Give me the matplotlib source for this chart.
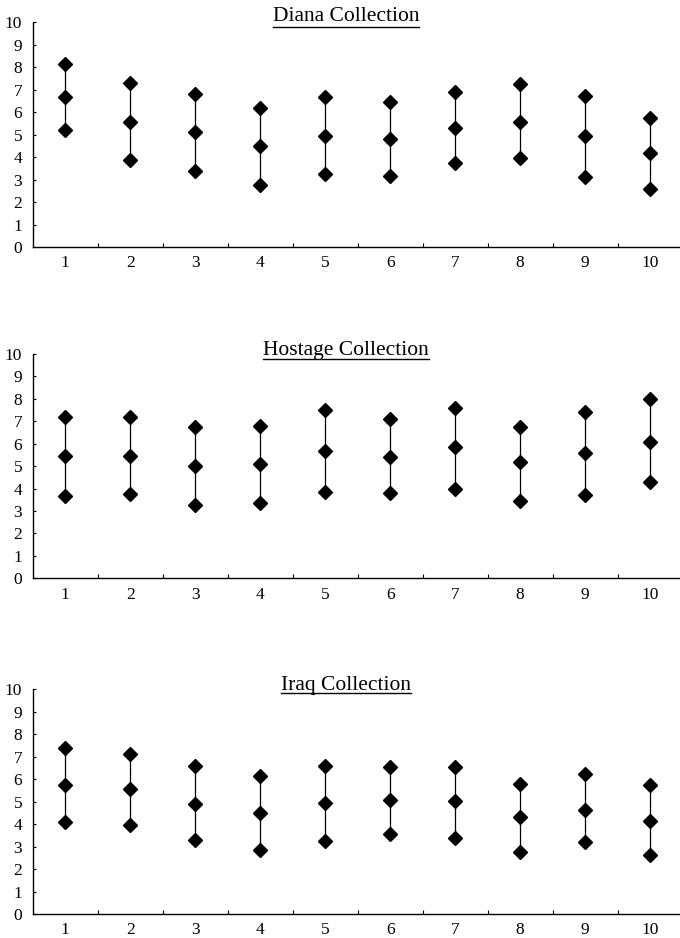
import matplotlib
matplotlib.use("Agg")
import matplotlib.pyplot as plt
from matplotlib.lines import Line2D
import numpy as np

categories = [1, 2, 3, 4, 5, 6, 7, 8, 9, 10]
titles = ["Diana Collection", "Hostage Collection", "Iraq Collection"]

diana_high = [8.15, 7.28, 6.80, 6.20, 6.68, 6.47, 6.90, 7.24, 6.72, 5.74]
diana_mid = [6.66, 5.55, 5.12, 4.48, 4.93, 4.82, 5.31, 5.56, 4.93, 4.18]
diana_low = [5.22, 3.86, 3.37, 2.75, 3.24, 3.16, 3.75, 3.95, 3.13, 2.58]

hostage_high = [7.18, 7.20, 6.76, 6.77, 7.49, 7.09, 7.61, 6.73, 7.43, 7.99]
hostage_mid = [5.45, 5.46, 4.99, 5.09, 5.67, 5.39, 5.85, 5.18, 5.57, 6.09]
hostage_low = [3.66, 3.78, 3.28, 3.37, 3.86, 3.80, 3.99, 3.43, 3.72, 4.30]

iraq_high = [7.40, 7.14, 6.59, 6.14, 6.60, 6.56, 6.54, 5.80, 6.23, 5.73]
iraq_mid = [5.76, 5.58, 4.91, 4.48, 4.94, 5.07, 5.04, 4.33, 4.63, 4.13]
iraq_low = [4.11, 3.96, 3.28, 2.85, 3.26, 3.57, 3.40, 2.77, 3.22, 2.61]

y_ticks = [0, 1, 2, 3, 4, 5, 6, 7, 8, 9, 10]

panels = [
    (titles[0], diana_low, diana_mid, diana_high),
    (titles[1], hostage_low, hostage_mid, hostage_high),
    (titles[2], iraq_low, iraq_mid, iraq_high),
]

W, H = 680, 938
fig = plt.figure(figsize=(W / 100, H / 100), dpi=100)
FONT = "Liberation Serif"

# axes boxes in pixels: (top, bottom)
boxes = [(22.3, 247.0), (354.0, 578.3), (689.3, 914.0)]
title_base = [21.0, 354.5, 690.0]
underline_y = [26.8, 359.3, 693.5]
left_px = 32.7
right_px = 682.5

for (title, lo, mid, hi), (top, bot), tb, uy in zip(panels, boxes, title_base, underline_y):
    ax = fig.add_axes([left_px / W, 1 - bot / H, (right_px - left_px) / W, (bot - top) / H])
    x = np.array(categories)
    ax.vlines(x, lo, hi, color="black", linewidth=0.9)
    for s in (lo, mid, hi):
        ax.plot(x, s, linestyle="none", marker="D", markersize=7.5,
                color="black", markeredgecolor="black")
    ax.set_xlim(0.5, 10.5)
    ax.set_ylim(0, 10)
    ax.set_yticks(y_ticks)
    ax.set_xticks(categories)
    ax.set_xticks(np.arange(1.5, 10.5, 1.0), minor=True)
    for sp in ("top", "right"):
        ax.spines[sp].set_visible(False)
    for sp in ("left", "bottom"):
        ax.spines[sp].set_linewidth(1.0)
    ax.tick_params(axis="y", direction="in", length=2.5, width=0.8, pad=7.5,
                   labelsize=12.5)
    ax.tick_params(axis="x", which="major", length=0, pad=6, labelsize=12.5)
    ax.tick_params(axis="x", which="minor", direction="in", length=3, width=0.8)
    for lab in ax.get_xticklabels() + ax.get_yticklabels():
        lab.set_fontfamily(FONT)
    t = fig.text(346 / W, 1 - tb / H, title, ha="center", va="baseline",
                 fontsize=15.5, fontfamily=FONT)
    fig.canvas.draw()
    bb = t.get_window_extent()
    fig.add_artist(Line2D([bb.x0 / W, bb.x1 / W], [1 - uy / H, 1 - uy / H],
                          transform=fig.transFigure, color="black", linewidth=1.0))

fig.savefig("out.png", dpi=100)
